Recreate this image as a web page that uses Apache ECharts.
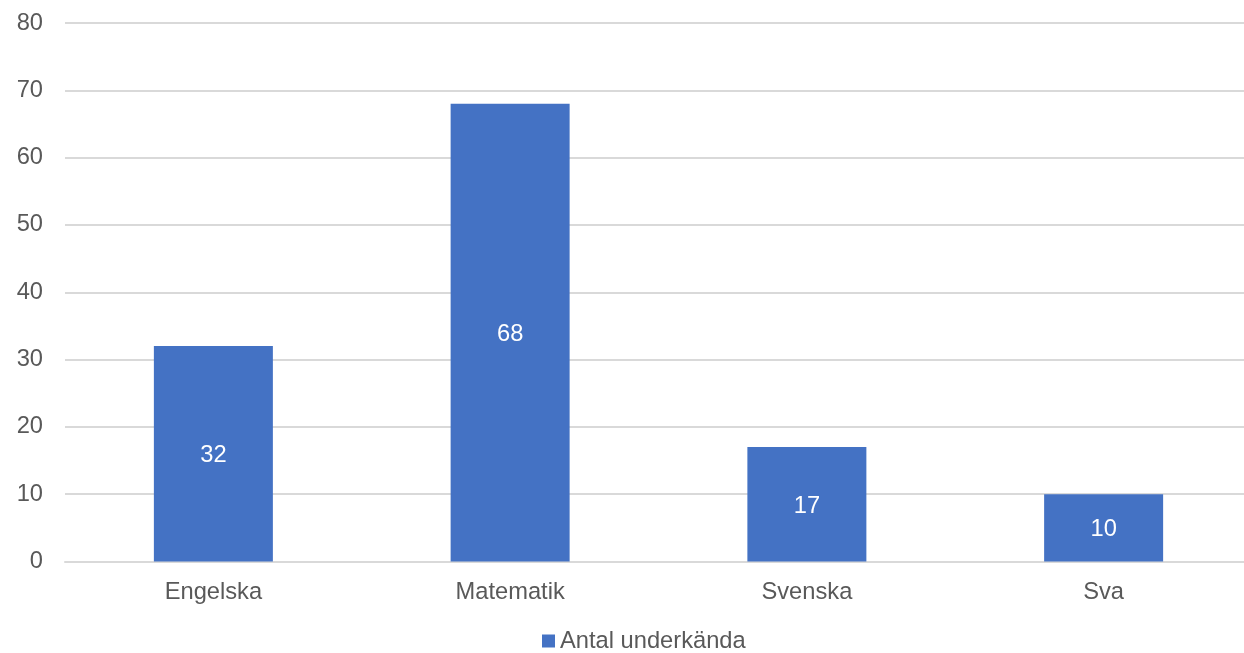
<!DOCTYPE html>
<html>
<head>
<meta charset="utf-8">
<style>
  html, body { margin: 0; padding: 0; background: #ffffff; overflow: hidden; }
  #chart { width: 1252px; height: 653px; }
</style>
<script src="https://cdn.jsdelivr.net/npm/echarts@6/dist/echarts.min.js"></script>
</head>
<body>
<div id="chart"></div>
<script>
// Number of failed students per subject
const subjects = ['Engelska', 'Matematik', 'Svenska', 'Sva'];
const failedCounts = [32, 68, 17, 10];
const seriesName = 'Antal underkända';

const textColor = '#595959';
const fontFamily = '"Liberation Sans", Arial, sans-serif';
const fontSize = 23.7;

const chart = echarts.init(document.getElementById('chart'), null, { renderer: 'canvas' });
chart.setOption({
  animation: false,
  grid: { left: 65, top: 23, right: 0, height: 538.5, containLabel: false },
  legend: {
    data: [seriesName],
    top: 629,
    left: 542,
    padding: 0,
    itemWidth: 13,
    itemHeight: 13,
    icon: 'rect',
    textStyle: { color: textColor, fontSize: fontSize, fontFamily: fontFamily }
  },
  xAxis: {
    type: 'category',
    data: subjects,
    axisLine: { show: true, lineStyle: { color: '#d9d9d9', width: 2 } },
    axisTick: { show: false },
    axisLabel: { color: textColor, fontSize: fontSize, fontFamily: fontFamily, margin: 19 }
  },
  yAxis: {
    type: 'value',
    min: 0,
    max: 80,
    interval: 10,
    axisLine: { show: false },
    axisTick: { show: false },
    axisLabel: {
      color: textColor, fontSize: fontSize, fontFamily: fontFamily, margin: 22,
      padding: [3, 0, 0, 0]
    },
    splitLine: { lineStyle: { color: '#d9d9d9', width: 2 } }
  },
  series: [{
    name: seriesName,
    type: 'bar',
    data: failedCounts,
    barWidth: 119,
    itemStyle: { color: '#4472c4' },
    label: {
      show: true,
      position: 'inside',
      offset: [0, 2],
      color: '#ffffff',
      fontSize: fontSize,
      fontFamily: fontFamily
    }
  }]
});
</script>
</body>
</html>
